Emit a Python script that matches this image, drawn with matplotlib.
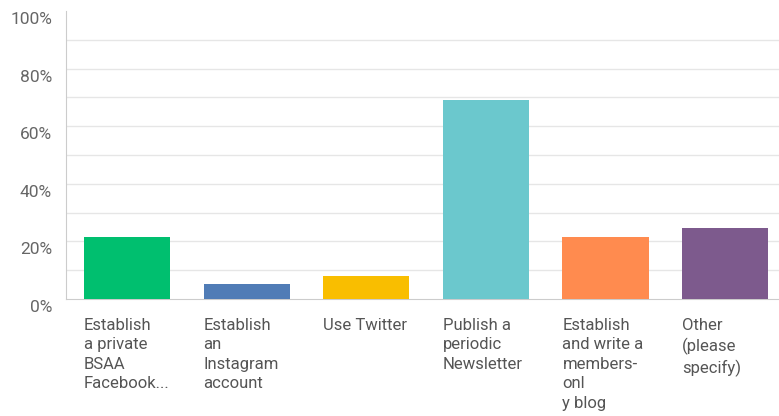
import matplotlib.pyplot as plt
import matplotlib.transforms as mtransforms

# answer choices and share of respondents (%)
choices = [
    "Establish\na private\nBSAA\nFacebook...",
    "Establish\nan\nInstagram\naccount",
    "Use Twitter",
    "Publish a\nperiodic\nNewsletter",
    "Establish\nand write a\nmembers-\nonl\ny blog",
    "Other\n(please\nspecify)",
]
shares = [21.7, 5.2, 8.1, 69.1, 21.7, 24.6]
colors = ["#00bf6f", "#507cb6", "#f9be00", "#6bc8cd", "#ff8b4f", "#7d5a8d"]
y_ticks = [0, 20, 40, 60, 80, 100]
y_tick_labels = ["0%", "20%", "40%", "60%", "80%", "100%"]

plt.rcParams['font.family'] = ['Roboto', 'DejaVu Sans']

fig = plt.figure(figsize=(7.79, 4.16), dpi=100)
ax = fig.add_axes([66 / 779, 1 - 299 / 416, 1 - 66 / 779, 288 / 416])

x = list(range(len(choices)))
bar_w = 0.72
ax.bar(x, shares, width=bar_w, color=colors, zorder=3)

ax.set_xlim(-0.51, 5.45)
ax.set_ylim(0, 100)

# light horizontal grid every 10%
for v in range(10, 100, 10):
    ax.axhline(v, color="#e6e6e6", lw=1, zorder=1)

ax.set_yticks(y_ticks)
ax.set_yticklabels(y_tick_labels, fontsize=12.5, color="#666666")
ax.tick_params(axis="y", length=0, pad=10)
# y labels sit a little below their gridline
shift = mtransforms.ScaledTranslation(0, -7 / 100, fig.dpi_scale_trans)
for lbl in ax.get_yticklabels():
    lbl.set_transform(lbl.get_transform() + shift)

ax.set_xticks([])
for s in ["top", "right"]:
    ax.spines[s].set_visible(False)
ax.spines["left"].set_color("#cccccc")
ax.spines["bottom"].set_color("#cccccc")

# category labels, left aligned under each bar
for i, txt in enumerate(choices):
    ax.text(i - bar_w / 2, -6.5, txt, ha="left", va="top", fontsize=12,
            color="#555555", linespacing=1.38, clip_on=False)

fig.savefig("out.png", dpi=100)
